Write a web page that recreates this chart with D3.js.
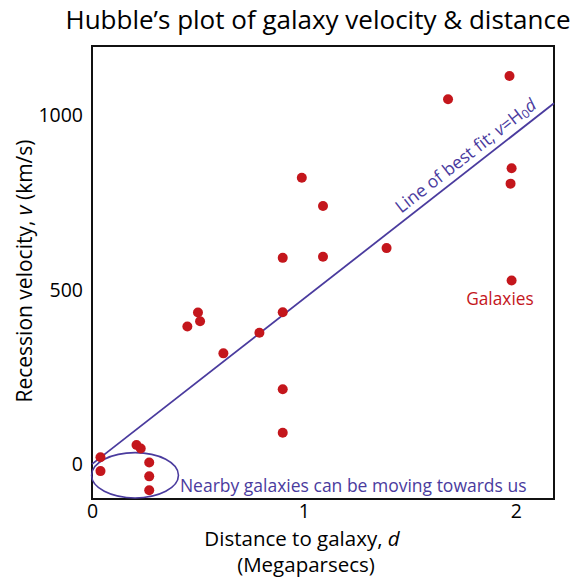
<!DOCTYPE html>
<html>
<head>
<meta charset="utf-8">
<script src="https://cdn.jsdelivr.net/npm/d3@7"></script>
<style>
  body { margin:0; background:#fff; }
  text { font-family: "Open Sans", sans-serif; }
</style>
</head>
<body>
<div id="vis"></div>
<script>
(function run(){

  // galaxy distance (Mpc) and recession velocity (km/s)
  var distances  = [0.04, 0.04, 0.21, 0.23, 0.27, 0.27, 0.27, 0.45, 0.50, 0.51, 0.62, 0.79, 0.90,
                    0.90, 0.90, 0.90, 0.99, 1.09, 1.09, 1.39, 1.68, 1.97, 1.98, 1.975, 1.98];
  var velocities = [20, -20, 55, 45, 5, -35, -75, 395, 435, 410, 318, 377, 436,
                    592, 215, 90, 822, 741, 595, 620, 1047, 1114, 849, 805, 527];

  var xTicks = [0, 1, 2];
  var yTicks = [0, 500, 1000];

  // best fit v = H0 d
  var H0 = 475;
  var fitD = [0, 2.18];

  // "nearby" ellipse in data units: centre d, centre v, radius d, radius v
  var nearby = [0.203, -32, 0.205, 65];

  var margin = {top:46, right:27, bottom:80, left:92};
  var width = 581 - margin.left - margin.right;
  var height = 579 - margin.top - margin.bottom;

  var red = "#c4161c";
  var purple = "#4a3b9e";

  var svg = d3.select("#vis")
    .append("svg")
      .attr("width", 581)
      .attr("height", 579);

  var g = svg.append("g")
    .attr("transform", "translate(" + margin.left + "," + margin.top + ")");

  var x = d3.scaleLinear()
    .domain([0, 2.18])
    .range([0, width]);

  var y = d3.scaleLinear()
    .domain([-100, 1200])
    .range([height, 0]);

  // frame
  g.append("rect")
    .attr("width", width)
    .attr("height", height)
    .attr("fill", "none")
    .attr("stroke", "#111")
    .attr("stroke-width", 2);

  var xAxis = d3.axisBottom(x)
    .tickValues(xTicks)
    .tickSize(0)
    .tickPadding(5)
    .tickFormat(d3.format("d"));

  var yAxis = d3.axisLeft(y)
    .tickValues(yTicks)
    .tickSize(0)
    .tickPadding(9)
    .tickFormat(d3.format("d"));

  g.append("g")
    .attr("class", "x axis")
    .attr("transform", "translate(0," + height + ")")
    .call(xAxis);

  g.append("g")
    .attr("class", "y axis")
    .call(yAxis);

  g.selectAll(".axis path").remove();
  g.selectAll(".axis text")
    .style("font-family", "'Open Sans', sans-serif")
    .style("font-size", "19.5px")
    .attr("fill", "#000");

  // nearby ellipse
  g.append("ellipse")
    .attr("cx", x(nearby[0]))
    .attr("cy", y(nearby[1]))
    .attr("rx", x(nearby[2]) - x(0))
    .attr("ry", y(0) - y(nearby[3]))
    .attr("fill", "none")
    .attr("stroke", purple)
    .attr("stroke-width", 1.6);

  // best fit line
  var fit = fitD.map(function(d){ return [d, H0 * d]; });
  var line = d3.line()
    .x(function(d){ return x(d[0]); })
    .y(function(d){ return y(d[1]); });

  g.append("path")
    .datum(fit)
    .attr("d", line)
    .attr("fill", "none")
    .attr("stroke", purple)
    .attr("stroke-width", 1.8);

  // points
  var points = distances.map(function(d, i){ return {d: d, v: velocities[i]}; });

  g.selectAll(".galaxy")
    .data(points)
    .enter()
    .append("circle")
      .attr("class", "galaxy")
      .attr("cx", function(d){ return x(d.d); })
      .attr("cy", function(d){ return y(d.v); })
      .attr("r", 5)
      .attr("fill", red);

  // label along the fit line
  var angle = Math.atan2(y(H0 * 2) - y(0), x(2) - x(0)) * 180 / Math.PI;
  var labD = 1.48;
  var lab = g.append("text")
    .attr("transform", "translate(" + x(labD) + "," + y(H0 * labD) + ") rotate(" + angle + ")")
    .attr("dy", -7)
    .attr("fill", purple)
    .style("font-size", "17.5px");
  lab.append("tspan").text("Line of best fit; ");
  lab.append("tspan").style("font-style", "italic").text("v");
  lab.append("tspan").text("=H");
  lab.append("tspan").attr("dy", 2).style("font-size", "12px").text("0");
  lab.append("tspan").attr("dy", -2).style("font-style", "italic").text("d");

  g.append("text")
    .attr("x", x(0.415))
    .attr("y", y(-80))
    .attr("fill", purple)
    .style("font-size", "17.5px")
    .text("Nearby galaxies can be moving towards us");

  g.append("text")
    .attr("x", x(1.925))
    .attr("y", y(457))
    .attr("text-anchor", "middle")
    .attr("fill", red)
    .style("font-size", "17.3px")
    .text("Galaxies");

  // axis titles
  var xl = svg.append("text")
    .attr("x", 302)
    .attr("y", 546)
    .attr("text-anchor", "middle")
    .style("font-size", "20.5px")
    .text("Distance to galaxy, ");
  xl.append("tspan").style("font-style", "italic").text("d");

  svg.append("text")
    .attr("x", 306)
    .attr("y", 572)
    .attr("text-anchor", "middle")
    .style("font-size", "20.5px")
    .text("(Megaparsecs)");

  var yl = svg.append("text")
    .attr("transform", "translate(32," + 271 + ") rotate(-90)")
    .attr("text-anchor", "middle")
    .style("font-size", "21px")
    .text("Recession velocity, ");
  yl.append("tspan").style("font-style", "italic").text("v");
  yl.append("tspan").text(" (km/s)");

  svg.append("text")
    .attr("x", 318)
    .attr("y", 29)
    .attr("text-anchor", "middle")
    .style("font-size", "26px")
    .text("Hubble\u2019s plot of galaxy velocity & distance");

})();
</script>
</body>
</html>
